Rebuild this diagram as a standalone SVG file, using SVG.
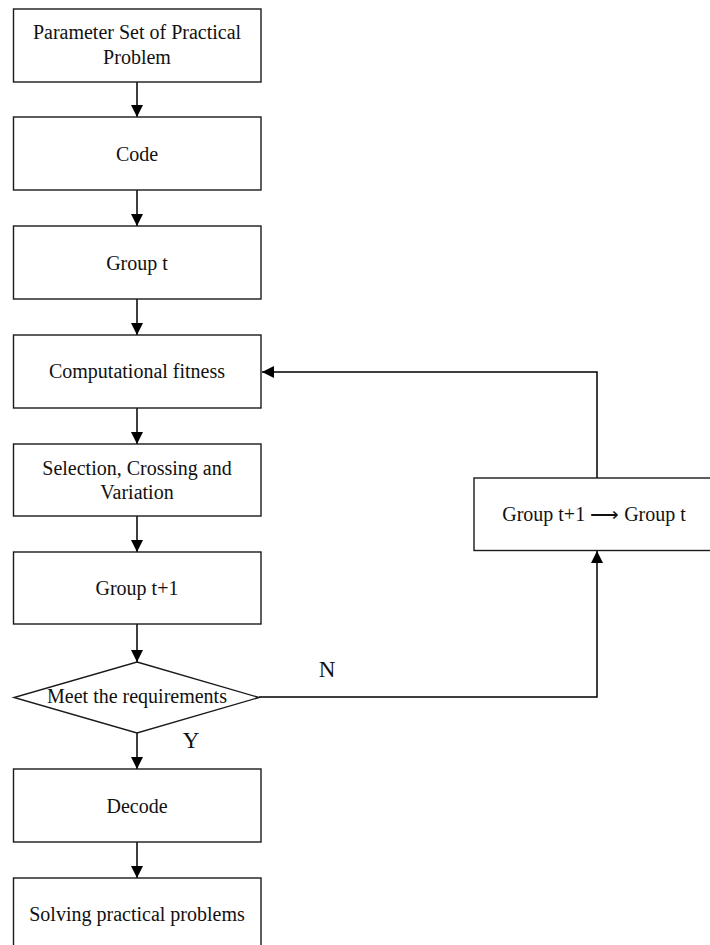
<svg xmlns="http://www.w3.org/2000/svg" width="710" height="945" viewBox="0 0 710 945">
  <style>
    .box { fill: #fff; stroke: #1a1a1a; stroke-width: 1.4; }
    .txt { font-family: "Liberation Serif", "Times New Roman", serif; font-size: 20px; fill: #111; text-anchor: middle; }
    .lbl { font-family: "Liberation Serif", "Times New Roman", serif; font-size: 23px; fill: #111; text-anchor: middle; }
    .edge { fill: none; stroke: #000; stroke-width: 1.5; }
  </style>
  <defs>
    <marker id="arrow" viewBox="0 0 12 12" refX="12" refY="6" markerWidth="12" markerHeight="12" markerUnits="userSpaceOnUse" orient="auto">
      <path d="M0,0 L12,6 L0,12 Z" fill="#000"/>
    </marker>
  </defs>
  <rect width="710" height="945" fill="#fff"/>

  <g id="connectors">
    <line class="edge" x1="137" y1="82" x2="137" y2="117" marker-end="url(#arrow)"/>
    <line class="edge" x1="137" y1="190" x2="137" y2="226" marker-end="url(#arrow)"/>
    <line class="edge" x1="137" y1="299" x2="137" y2="335" marker-end="url(#arrow)"/>
    <line class="edge" x1="137" y1="408" x2="137" y2="444" marker-end="url(#arrow)"/>
    <line class="edge" x1="137" y1="516" x2="137" y2="552" marker-end="url(#arrow)"/>
    <line class="edge" x1="137" y1="624" x2="137" y2="662" marker-end="url(#arrow)"/>
    <line class="edge" x1="137" y1="733" x2="137" y2="769" marker-end="url(#arrow)"/>
    <line class="edge" x1="137" y1="842" x2="137" y2="878" marker-end="url(#arrow)"/>
    <polyline class="edge" points="259,697 597,697 597,551" marker-end="url(#arrow)"/>
    <polyline class="edge" points="597,478 597,372 262,372" marker-end="url(#arrow)"/>
    <text class="lbl" x="327" y="677">N</text>
    <text class="lbl" x="191" y="748">Y</text>
  </g>

  <g id="param-set">
    <rect class="box" x="13.5" y="9" width="247.5" height="73"/>
    <text class="txt" x="137" y="39">Parameter Set of Practical</text>
    <text class="txt" x="137" y="64">Problem</text>
  </g>
  <g id="code">
    <rect class="box" x="13.5" y="117" width="247.5" height="73"/>
    <text class="txt" x="137" y="161">Code</text>
  </g>
  <g id="group-t">
    <rect class="box" x="13.5" y="226" width="247.5" height="73"/>
    <text class="txt" x="137" y="270">Group t</text>
  </g>
  <g id="fitness">
    <rect class="box" x="13.5" y="335" width="247.5" height="73"/>
    <text class="txt" x="137" y="378">Computational fitness</text>
  </g>
  <g id="selection">
    <rect class="box" x="13.5" y="444" width="247.5" height="72"/>
    <text class="txt" x="137" y="475">Selection, Crossing and</text>
    <text class="txt" x="137" y="499">Variation</text>
  </g>
  <g id="group-t1">
    <rect class="box" x="13.5" y="552" width="247.5" height="72"/>
    <text class="txt" x="137" y="595">Group t+1</text>
  </g>
  <g id="requirements">
    <polygon class="box" points="137,662 259,697.5 137,733 14,697.5"/>
    <text class="txt" x="137" y="703">Meet the requirements</text>
  </g>
  <g id="decode">
    <rect class="box" x="13.5" y="769" width="247.5" height="73"/>
    <text class="txt" x="137" y="813">Decode</text>
  </g>
  <g id="solving">
    <rect class="box" x="13.5" y="878" width="247.5" height="73"/>
    <text class="txt" x="137" y="921">Solving practical problems</text>
  </g>
  <g id="update">
    <rect class="box" x="474" y="478" width="247.5" height="72.5"/>
    <text class="txt" x="594" y="521">Group t+1 ⟶ Group t</text>
  </g>
</svg>
